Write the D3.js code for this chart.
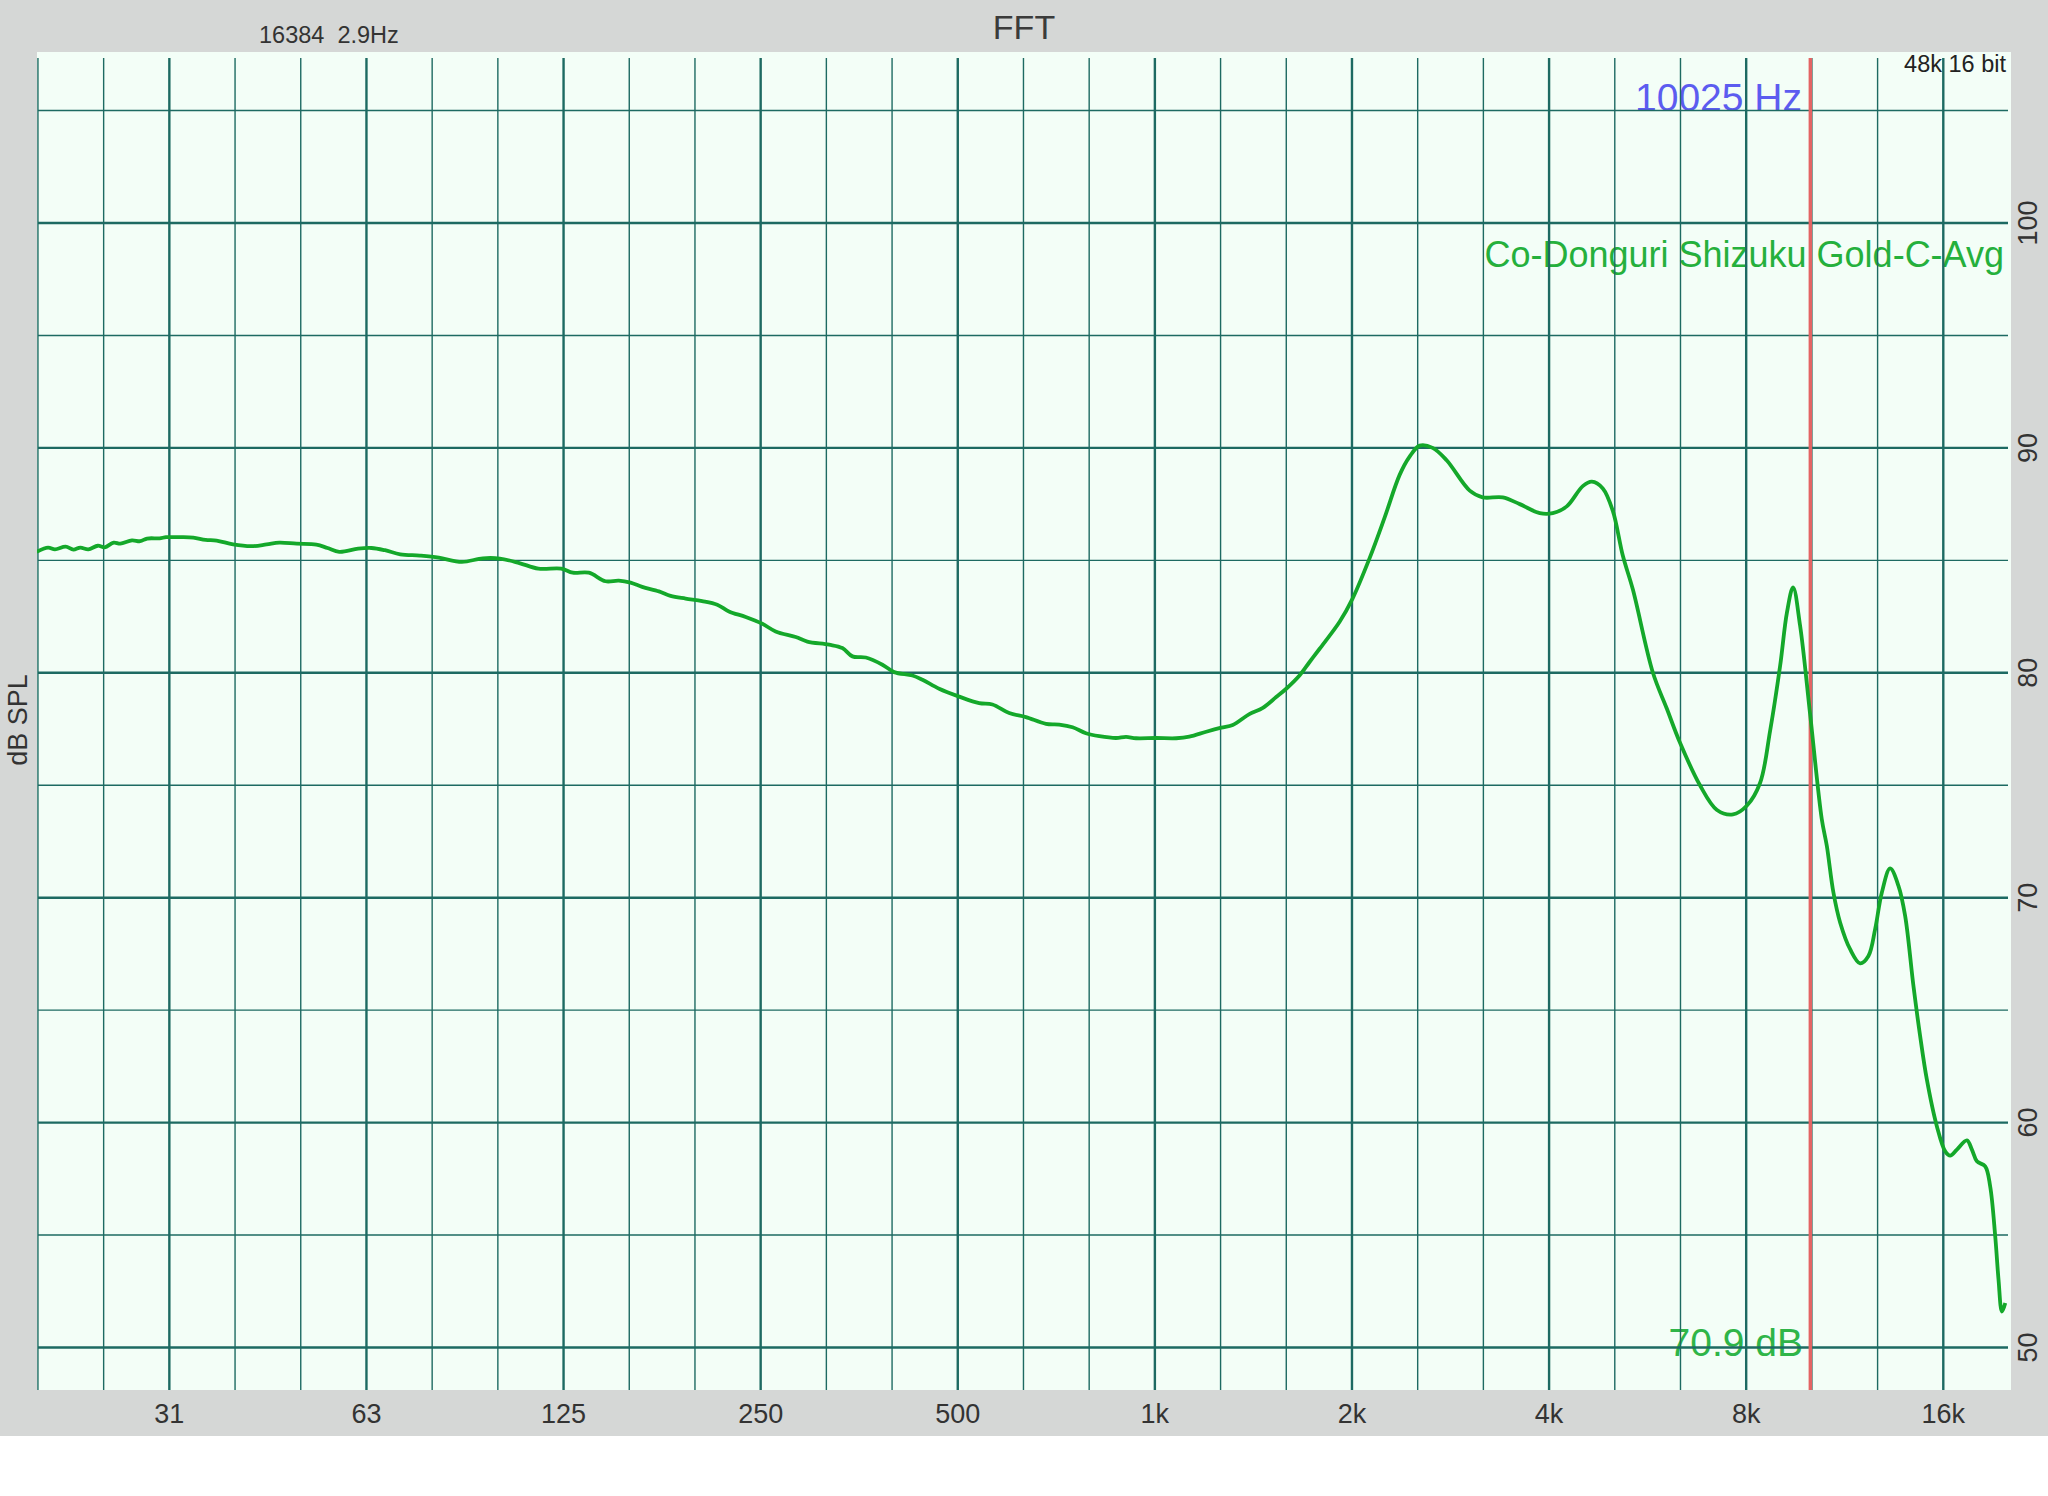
<!DOCTYPE html>
<html><head><meta charset="utf-8">
<script src="https://cdn.jsdelivr.net/npm/d3@7"></script>
<style>body{margin:0;background:#fff}svg text{font-family:"Liberation Sans",Arial,Helvetica,sans-serif}</style>
</head><body><svg id="c" width="2048" height="1496"></svg>
<script>
// ---- data ----
const freqHz=[19.6,20.4,20.9,21.7,22.3,22.85,23.5,24.3,24.9,25.7,26.3,27.4,28.2,28.9,30.2,30.9,32.5,34.0,35.5,36.9,39.1,41.7,44.0,46.0,48.9,52.4,54.5,56.8,60.7,63.6,66.7,70.4,75.4,80.6,87.4,94.1,99.9,107.0,114.4,124.0,129.1,136.6,144.9,151.8,158.2,164.8,174.8,182.1,192.0,203.5,214.6,223.6,237.2,251.4,263.5,282.8,294.6,318.0,333.2,345.2,361.8,383.6,399.8,426.3,441.6,468.3,502.5,539.1,564.9,599.1,635.4,681.8,714.4,748.7,784.8,822.5,872.3,903.6,935.9,1004,1078,1129,1198,1263,1315,1394,1462,1532,1587,1663,1723,1785,1915,2004,2128,2243,2365,2448,2538,2656,2790,3026,3167,3398,3608,3871,4052,4257,4503,4650,4832,5005,5185,5371,5763,6053,6337,6800,7219,7637,8022,8400,8700,9013,9235,9434,9669,10013,10435,10622,10872,11131,11529,11943,12297,12590,12891,13272,13666,13991,14406,14750,15100,15641,16109,16394,16784,17384,17694,18009,18541,18869,19206,19431,19666,19897];
const splDb=[85.38,85.57,85.49,85.61,85.48,85.57,85.49,85.65,85.58,85.79,85.74,85.89,85.85,85.97,85.98,86.03,86.03,86.01,85.91,85.88,85.71,85.63,85.71,85.79,85.74,85.70,85.55,85.38,85.52,85.55,85.45,85.27,85.21,85.12,84.93,85.09,85.08,84.88,84.63,84.63,84.45,84.45,84.07,84.10,84.01,83.82,83.62,83.42,83.30,83.19,83.03,82.73,82.48,82.18,81.84,81.59,81.39,81.25,81.10,80.73,80.68,80.36,80.03,79.88,79.69,79.29,78.94,78.65,78.59,78.21,78.03,77.73,77.70,77.58,77.31,77.18,77.10,77.15,77.09,77.10,77.09,77.16,77.38,77.56,77.68,78.16,78.44,78.92,79.29,79.88,80.48,81.07,82.27,83.3,85.1,86.9,88.8,89.6,90.1,90.0,89.45,88.1,87.8,87.8,87.5,87.1,87.1,87.4,88.3,88.5,88.2,87.2,85.2,83.7,80.0,78.4,76.9,75.0,73.9,73.7,74.1,75.1,77.4,80.3,82.7,83.8,82.1,78.2,73.5,72.31,70.23,68.90,67.71,67.08,67.41,68.60,70.23,71.30,70.53,69.19,66.07,63.84,61.92,59.84,58.72,58.53,58.80,59.21,58.80,58.28,58.05,57.16,54.94,53.01,51.60,51.98];
const xTickFreqs=[31.25,62.5,125,250,500,1000,2000,4000,8000,16000];
const xTickLabels=["31","63","125","250","500","1k","2k","4k","8k","16k"];
const yTicks=[50,60,70,80,90,100];
const yGridDb=[50,55,60,65,70,75,80,85,90,95,100,105];
const cursorHz=10025;
const titleText="FFT";
const infoLeft="16384  2.9Hz";
const infoRight="48k 16 bit";
const cursorLabel="10025 Hz";
const seriesName="Co-Donguri Shizuku Gold-C-Avg";
const readout="70.9 dB";
const yTitle="dB SPL";

// ---- drawing ----
const svg=d3.select('#c');
const plot={l:37,r:2011,t:52,b:1390,gt:58};
const x=d3.scaleLog().domain([19.69,20159]).range([38,2009]);
const y=d3.scaleLinear().domain([50,100]).range([1347.5,223]);
const gridColor='#1d6a62';

svg.append('rect').attr('x',0).attr('y',0).attr('width',2048).attr('height',1436).attr('fill','#d5d7d6');
svg.append('rect').attr('x',plot.l).attr('y',plot.t).attr('width',plot.r-plot.l).attr('height',plot.b-plot.t).attr('fill','#f3fef7');

// in-plot texts (under the grid)
svg.append('text').attr('x',1802).attr('y',111).attr('text-anchor','end').attr('font-size',39).attr('fill','#5c5cf0').text(cursorLabel);
svg.append('text').attr('x',2004).attr('y',267).attr('text-anchor','end').attr('font-size',36).attr('fill','#25b03c').text(seriesName);
svg.append('text').attr('x',1803).attr('y',1356).attr('text-anchor','end').attr('font-size',39).attr('fill','#2fb548').text(readout);
svg.append('text').attr('x',2006).attr('y',72).attr('text-anchor','end').attr('font-size',23.5).attr('fill','#222').text(infoRight);

// vertical grid: third-octave lines
const thirdN=d3.range(-17,13);
svg.append('g').selectAll('line').data(thirdN).join('line')
  .attr('x1',n=>x(1000*Math.pow(2,n/3))).attr('x2',n=>x(1000*Math.pow(2,n/3)))
  .attr('y1',plot.gt).attr('y2',plot.b)
  .attr('stroke',gridColor)
  .attr('stroke-width',n=>(((n%3)+3)%3===0)?2.4:1.4);

// horizontal grid
svg.append('g').selectAll('line').data(yGridDb).join('line')
  .attr('x1',38).attr('x2',2008)
  .attr('y1',d=>y(d)).attr('y2',d=>y(d))
  .attr('stroke',gridColor)
  .attr('stroke-width',d=>d%10===0?2.4:1.4);

// cursor
svg.append('line').attr('x1',x(cursorHz)).attr('x2',x(cursorHz)).attr('y1',plot.gt).attr('y2',plot.b)
  .attr('stroke','#e36464').attr('stroke-width',3.5);

// curve
svg.append('clipPath').attr('id','clip').append('rect')
  .attr('x',plot.l).attr('y',plot.t).attr('width',plot.r-plot.l).attr('height',plot.b-plot.t);
const pts=freqHz.map((f,i)=>[f,splDb[i]]);
const line=d3.line().x(d=>x(d[0])).y(d=>y(d[1])).curve(d3.curveCatmullRom.alpha(0.5));
svg.append('path').attr('d',line(pts)).attr('fill','none').attr('stroke','#14a82a')
  .attr('stroke-width',3.8).attr('stroke-linejoin','round').attr('clip-path','url(#clip)');

// outer texts
svg.append('text').attr('x',1024).attr('y',39).attr('text-anchor','middle').attr('font-size',34).attr('fill','#3b3b3b').text(titleText);
svg.append('text').attr('x',259).attr('y',43).attr('font-size',23.5).attr('fill','#333').style('white-space','pre').text(infoLeft);

svg.append('g').selectAll('text').data(xTickFreqs).join('text')
  .attr('x',d=>x(d)).attr('y',1423).attr('text-anchor','middle').attr('font-size',27).attr('fill','#333')
  .text((d,i)=>xTickLabels[i]);

svg.append('g').selectAll('text').data(yTicks).join('text')
  .attr('transform',d=>`translate(2037,${y(d)}) rotate(-90)`).attr('text-anchor','middle')
  .attr('font-size',27).attr('fill','#333').text(d=>d);

svg.append('text').attr('transform','translate(27,720) rotate(-90)').attr('text-anchor','middle')
  .attr('font-size',27).attr('fill','#333').text(yTitle);
</script></body></html>
